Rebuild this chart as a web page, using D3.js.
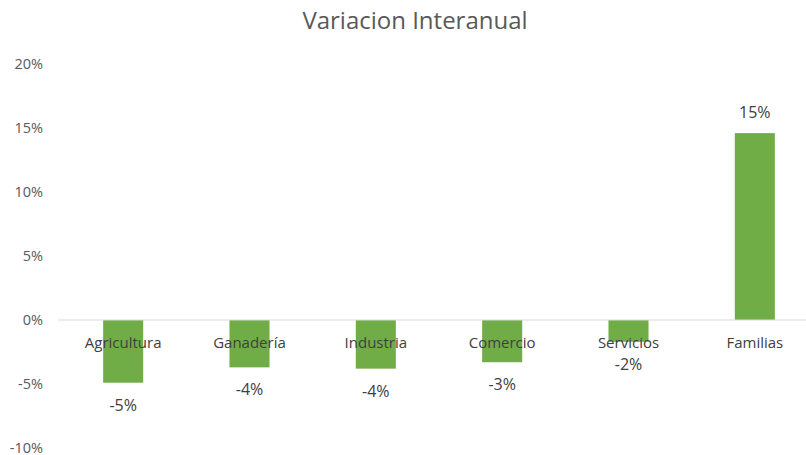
<!DOCTYPE html>
<html>
<head>
<meta charset="utf-8">
<script src="https://cdn.jsdelivr.net/npm/d3@7"></script>
<style>
  body { margin: 0; background: #fff; }
  svg { display: block; font-family: "Open Sans", "Noto Sans", sans-serif; }
</style>
</head>
<body>
<svg id="chart"></svg>
<script>
// Data
const categories = ["Agricultura", "Ganadería", "Industria", "Comercio", "Servicios", "Familias"];
const values = [-0.049, -0.037, -0.038, -0.033, -0.017, 0.146];
const labels = ["-5%", "-4%", "-4%", "-3%", "-2%", "15%"];
const yTicks = [-0.10, -0.05, 0, 0.05, 0.10, 0.15, 0.20];
const yTickLabels = ["-10%", "-5%", "0%", "5%", "10%", "15%", "20%"];

const width = 806;
const height = 455;

const svg = d3.select("#chart")
  .attr("width", width)
  .attr("height", height);

// Scales
const x = d3.scaleBand()
  .domain(categories)
  .range([60, 818])
  .paddingInner(0.683)
  .paddingOuter(0.3415);

const y = d3.scaleLinear()
  .domain([-0.10, 0.20])
  .range([448, 64]);

// Title
svg.append("text")
  .attr("x", 415)
  .attr("y", 29)
  .attr("text-anchor", "middle")
  .style("font-size", "24px")
  .style("fill", "#595959")
  .text("Variacion Interanual");

// Y axis labels (no axis line), hyphen minus like the original
const yAxis = d3.axisLeft(y)
  .tickValues(yTicks)
  .tickFormat((d, i) => yTickLabels[i])
  .tickSize(0)
  .tickPadding(0);

svg.append("g")
  .attr("transform", "translate(43,0)")
  .call(yAxis)
  .call(g => g.select(".domain").remove())
  .selectAll("text")
  .style("font-family", "'Open Sans', 'Noto Sans', sans-serif")
  .style("font-size", "14.5px")
  .style("fill", "#595959");

// Bars
svg.selectAll("rect.bar")
  .data(values)
  .enter()
  .append("rect")
  .attr("class", "bar")
  .attr("x", (d, i) => x(categories[i]))
  .attr("width", x.bandwidth())
  .attr("y", d => y(Math.max(0, d)))
  .attr("height", d => Math.abs(y(d) - y(0)))
  .attr("fill", "#70ad47");

// Zero line
svg.append("line")
  .attr("x1", 58)
  .attr("x2", width)
  .attr("y1", y(0))
  .attr("y2", y(0))
  .attr("stroke", "#d9d9d9")
  .attr("stroke-width", 1);

// Category labels, drawn just under the zero line
svg.selectAll("text.cat")
  .data(categories)
  .enter()
  .append("text")
  .attr("class", "cat")
  .attr("x", d => x(d) + x.bandwidth() / 2)
  .attr("y", y(0) + 28)
  .attr("text-anchor", "middle")
  .style("font-size", "15px")
  .style("fill", "#404040")
  .text(d => d);

// Data labels
svg.selectAll("text.val")
  .data(values)
  .enter()
  .append("text")
  .attr("class", "val")
  .attr("x", (d, i) => x(categories[i]) + x.bandwidth() / 2)
  .attr("y", d => d < 0 ? y(d) + 28 : y(d) - 15)
  .attr("text-anchor", "middle")
  .style("font-size", "16px")
  .style("fill", "#404040")
  .text((d, i) => labels[i]);
</script>
</body>
</html>
